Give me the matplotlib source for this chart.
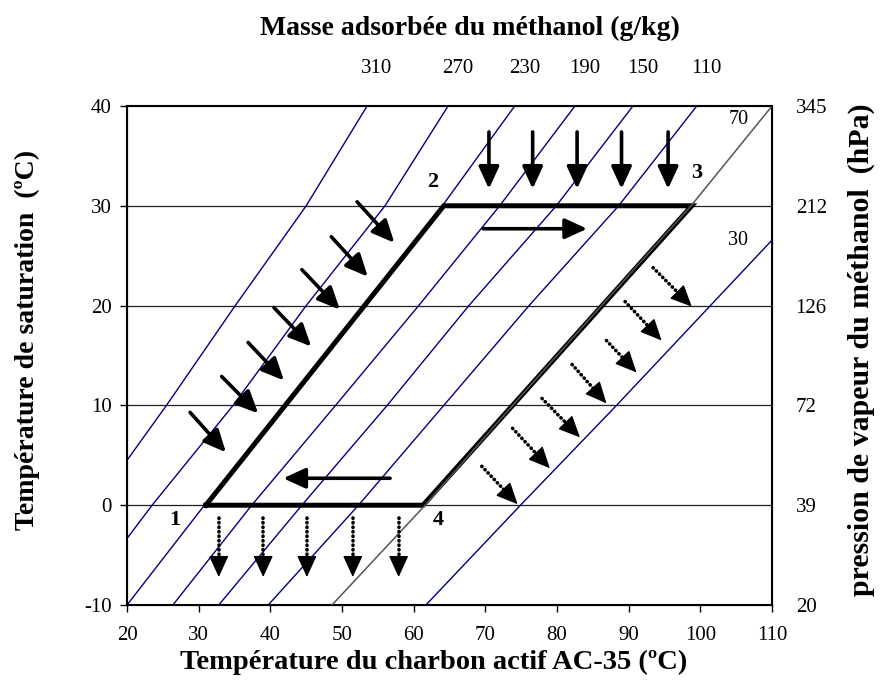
import matplotlib
matplotlib.use('Agg')
import matplotlib.pyplot as plt

plt.rcParams['font.family'] = ['Liberation Serif', 'DejaVu Serif']
plt.rcParams['axes.unicode_minus'] = False

# saturation temperatures (left axis grid) and matching vapour pressures (hPa)
SAT_TEMPS = [-10, 0, 10, 20, 30, 40]
PRESSURE_LABELS = ['20', '39', '72', '126', '212', '345']

# isosteres: carbon temperature (ºC) at each saturation temperature
ISO_310 = [6.0, 15.5, 25.5, 35.1, 45.0, 53.5]
ISO_270 = [13.0, 23.5, 34.8, 45.0, 56.0, 64.8]
ISO_230 = [20.0, 30.8, 42.3, 53.3, 64.0, 74.1]
ISO_190 = [26.4, 37.4, 49.1, 60.7, 72.0, 82.5]
ISO_150 = [32.8, 44.4, 56.3, 67.7, 79.9, 90.6]
ISO_110 = [39.7, 52.3, 64.2, 76.1, 88.6, 99.5]
ISO_70 = [48.6, 61.6, 73.8, 86.2, 98.7, 110.0]
ISO_30 = [61.7, 74.9, 88.3, 101.4, 114.5, 127.5]

MASS_LABELS = ['310', '270', '230', '190', '150', '110']

# cycle 1-2-3-4
CYCLE_T = [31.0, 64.2, 98.8, 61.3, 31.0]
CYCLE_SAT = [0, 30, 30, 0, 0]
CYCLE_NAMES = ['1', '2', '3', '4']
CYCLE_NAME_T = [26.7, 62.7, 99.5, 63.4]
CYCLE_NAME_SAT = [-1.5, 32.4, 33.3, -1.5]

# solid arrows (tail T, tail t, head T, head t)
ADS_TAIL_T = [52.1, 48.5, 44.4, 40.5, 36.9, 33.2, 28.8]
ADS_TAIL_S = [30.4, 26.9, 23.6, 19.8, 16.3, 12.9, 9.3]
ADS_HEAD_T = [57.3, 53.6, 49.7, 45.7, 41.9, 38.3, 33.8]
ADS_HEAD_S = [26.3, 22.9, 19.6, 15.9, 12.5, 9.2, 5.3]

COND_T = [70.5, 76.6, 82.8, 89.0, 95.5]
COND_TAIL_S = 37.4
COND_HEAD_S = 31.7

# dotted arrows
EVAP_T = [32.8, 39.0, 45.1, 51.5, 57.9]
EVAP_TAIL_S = -1.3
EVAP_HEAD_S = -7.2

DES_TAIL_T = [69.5, 73.8, 77.9, 82.1, 86.9, 89.5, 93.4]
DES_TAIL_S = [3.9, 7.7, 10.7, 14.1, 16.5, 20.4, 23.8]
DES_HEAD_T = [74.5, 79.0, 83.2, 86.9, 91.1, 94.6, 98.8]
DES_HEAD_S = [0.1, 3.7, 6.8, 10.2, 13.3, 16.5, 19.9]

# process direction arrows
HEAT_ARROW = [69.7, 27.7, 84.2, 27.7]
COOL_ARROW = [56.7, 2.7, 41.8, 2.7]

HEAD = '-|>,head_length=1.35,head_width=0.62'


def draw_arrow(ax, t0, s0, t1, s1, dotted=False):
    if not dotted:
        ax.annotate('', xy=(t1, s1), xytext=(t0, s0),
                    arrowprops=dict(arrowstyle=HEAD, color='black', lw=2.6,
                                    shrinkA=0, shrinkB=0, mutation_scale=10),
                    zorder=6)
        return
    tm = t0 + 0.75 * (t1 - t0)
    sm = s0 + 0.75 * (s1 - s0)
    ax.plot([t0, tm], [s0, sm], color='black', lw=2.6,
            linestyle=(0, (0.1, 1.15)), dash_capstyle='round', zorder=6)
    tb = t0 + 0.62 * (t1 - t0)
    sb = s0 + 0.62 * (s1 - s0)
    ax.annotate('', xy=(t1, s1), xytext=(tb, sb),
                arrowprops=dict(arrowstyle=HEAD, color='black', lw=1.0,
                                shrinkA=0, shrinkB=0, mutation_scale=10),
                zorder=6)


def main():
    fig = plt.figure(figsize=(8.92, 7.0), dpi=100)
    ax = fig.add_axes([0.1424, 0.1357, 0.7231, 0.7129])
    ax.set_xlim(20, 110)
    ax.set_ylim(-10, 40)

    for s in [0, 10, 20, 30]:
        ax.axhline(s, color='#202020', lw=0.9, zorder=1)

    blue = [ISO_310, ISO_270, ISO_230, ISO_190, ISO_150, ISO_110, ISO_30]
    for iso in blue:
        ax.plot(iso, SAT_TEMPS, color='#000080', lw=1.0, zorder=2)

    ax.plot(CYCLE_T, CYCLE_SAT, color='black', lw=3.6,
            solid_joinstyle='miter', zorder=4)
    ax.plot(ISO_70, SAT_TEMPS, color='#555555', lw=1.1, zorder=5)

    for i in range(len(ADS_TAIL_T)):
        draw_arrow(ax, ADS_TAIL_T[i], ADS_TAIL_S[i], ADS_HEAD_T[i], ADS_HEAD_S[i])
    for t in COND_T:
        draw_arrow(ax, t, COND_TAIL_S, t, COND_HEAD_S)
    draw_arrow(ax, *HEAT_ARROW)
    draw_arrow(ax, *COOL_ARROW)
    for t in EVAP_T:
        draw_arrow(ax, t, EVAP_TAIL_S, t, EVAP_HEAD_S, dotted=True)
    for i in range(len(DES_TAIL_T)):
        draw_arrow(ax, DES_TAIL_T[i], DES_TAIL_S[i], DES_HEAD_T[i], DES_HEAD_S[i], dotted=True)

    for name, t, s in zip(CYCLE_NAMES, CYCLE_NAME_T, CYCLE_NAME_SAT):
        ax.text(t, s, name, fontsize=16, fontweight='bold', ha='center', va='center')

    ax.text(105.3, 38.6, '70', fontsize=14.5, ha='center', va='center')
    ax.text(105.3, 26.5, '30', fontsize=14.5, ha='center', va='center')

    # adsorbed mass labels above the isosteres
    tops = [ISO_310[-1], ISO_270[-1], ISO_230[-1], ISO_190[-1], ISO_150[-1], ISO_110[-1]]
    for lab, t in zip(MASS_LABELS, tops):
        ax.annotate(lab, xy=(t, 40), xytext=(7, 27), textcoords='offset points',
                    fontsize=15, ha='center', va='center')

    ax.set_xticks(range(20, 111, 10))
    ax.set_yticks(SAT_TEMPS)
    ax.tick_params(axis='x', labelsize=15, length=5, width=1, direction='out', pad=10)
    ax.tick_params(axis='y', labelsize=15, length=5, width=1, direction='out', pad=6)
    for sp in ax.spines.values():
        sp.set_linewidth(1.5)

    ax2 = ax.twinx()
    ax2.set_ylim(-10, 40)
    ax2.set_yticks(SAT_TEMPS)
    ax2.set_yticklabels(PRESSURE_LABELS)
    ax2.tick_params(labelsize=15, length=0, pad=17)

    fig.text(0.527, 0.96, 'Masse adsorbée du méthanol (g/kg)', fontsize=20,
             fontweight='bold', ha='center', va='center')
    fig.text(0.486, 0.054, 'Température du charbon actif AC-35 (ºC)', fontsize=20.5,
             fontweight='bold', ha='center', va='center')
    fig.text(0.031, 0.514, 'Température de saturation  (ºC)', fontsize=20,
             fontweight='bold', ha='center', va='center', rotation=90)
    fig.text(0.966, 0.5, 'pression de vapeur du méthanol  (hPa)', fontsize=21.5,
             fontweight='bold', ha='center', va='center', rotation=90)

    fig.savefig('out.png', dpi=100)
    plt.close()


if __name__ == "__main__":
    main()
